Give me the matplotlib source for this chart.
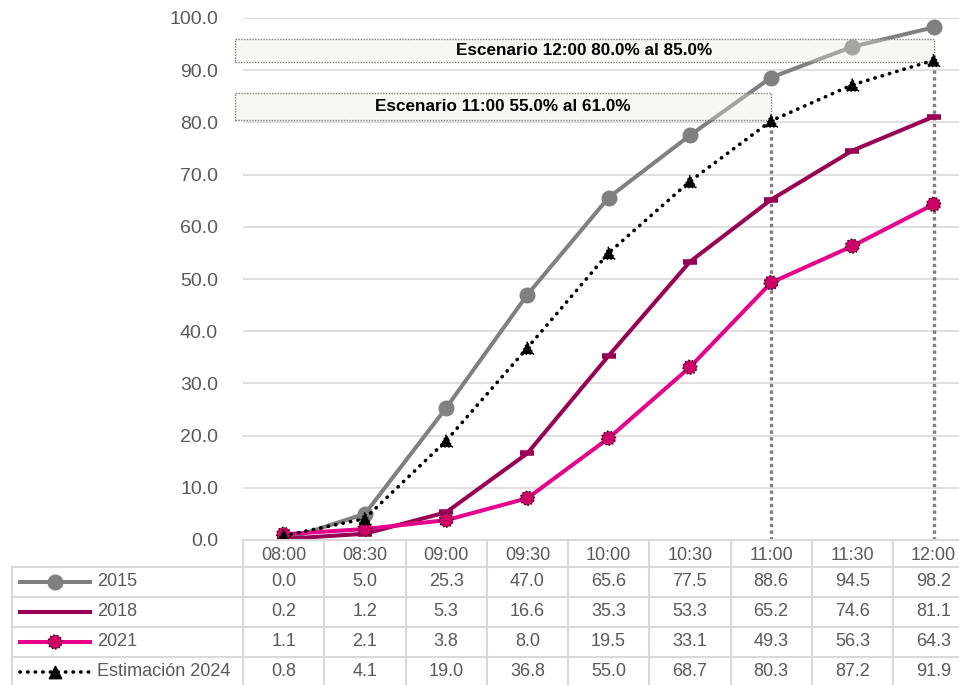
import matplotlib
matplotlib.use("Agg")
import matplotlib.pyplot as plt
from matplotlib.patches import Rectangle
from matplotlib.lines import Line2D
import numpy as np

plt.rcParams['font.family'] = ['Liberation Sans', 'DejaVu Sans']

# ---------------- datos ----------------
horas = ['08:00', '08:30', '09:00', '09:30', '10:00', '10:30', '11:00', '11:30', '12:00']
v2015 = [0.0, 5.0, 25.3, 47.0, 65.6, 77.5, 88.6, 94.5, 98.2]
v2018 = [0.2, 1.2, 5.3, 16.6, 35.3, 53.3, 65.2, 74.6, 81.1]
v2021 = [1.1, 2.1, 3.8, 8.0, 19.5, 33.1, 49.3, 56.3, 64.3]
v2024 = [0.8, 4.1, 19.0, 36.8, 55.0, 68.7, 80.3, 87.2, 91.9]
series_nombres = ['2015', '2018', '2021', 'Estimación 2024']

escenarios = [("Escenario 12:00 80.0% al 85.0%", '12:00', 91.5, 96.0),
              ("Escenario 11:00 55.0% al 61.0%", '11:00', 80.5, 85.6)]

# ---------------- estilos ----------------
C2015 = '#808080'
C2018 = '#990055'
C2021 = '#E6008C'
C2021_M = '#CC0066'
GRID = '#D9D9D9'
TXT = '#595959'
LW = 2.9
DOT = dict(color='black', lw=2.6, ls=(0, (0.1, 2.0)), dash_capstyle='round')

W, H, DPI = 959, 685, 100
COLW = 81.25          # ancho de columna en px
X0 = 243              # borde izquierdo del área de gráfico (px)
Y0 = 540              # línea del cero (px)
YTOP = 18             # 100 (px)
LEG_LEFT = 12         # borde izquierdo de la tabla (px)

fig = plt.figure(figsize=(W / DPI, H / DPI), dpi=DPI)
ax = fig.add_axes([X0 / W, (H - Y0) / H, 9 * COLW / W, (Y0 - YTOP) / H])

x = np.arange(len(horas))

ax.plot(x, v2015, color=C2015, lw=LW, marker='o', ms=10.5, zorder=2)
ax.plot(x, v2018, color=C2018, lw=LW, marker='_', ms=10, mew=4, zorder=4)
ax.plot(x, v2021, color=C2021, lw=LW, zorder=5)
ax.scatter(x, v2021, s=100, color=C2021_M, edgecolors='black', linewidths=1,
           linestyles=':', zorder=6)
ax.plot(x, v2024, zorder=7, **DOT)
ax.scatter(x, v2024, s=80, marker='^', color='black', edgecolors='black', linewidths=1,
           linestyles=':', zorder=8)

# líneas de caída y cuadros de escenario
for texto, hora, y_lo, y_hi in escenarios:
    i = horas.index(hora)
    ax.plot([i, i], [0, v2024[i] - 1.5], color=C2015, lw=2.4, ls=(0, (1, 1)), zorder=3)
    x_lo = -0.5 - (X0 - 235) / COLW
    ax.add_patch(Rectangle((x_lo, y_lo), i - x_lo, y_hi - y_lo, facecolor='#EBEBDB', alpha=0.35,
                           edgecolor='none', zorder=2.5, clip_on=False))
    ax.add_patch(Rectangle((x_lo, y_lo), i - x_lo, y_hi - y_lo, facecolor='none',
                           edgecolor='#7F7F7F', lw=1, ls=(0, (1, 1)), zorder=2.6, clip_on=False))
    ax.text((x_lo + i) / 2, (y_lo + y_hi) / 2, texto, ha='center', va='center',
            fontsize=12.3, fontweight='bold', color='black', zorder=9)

ax.set_xlim(-0.5, 8.5)
ax.set_ylim(0, 100)
ax.set_yticks(np.arange(0, 101, 10))
ax.set_yticklabels([f"{v:.1f}" for v in np.arange(0, 101, 10)], fontsize=14, color=TXT)
ax.tick_params(axis='y', length=0, pad=18)
ax.set_xticks([])
ax.yaxis.grid(True, color=GRID, lw=1.2, zorder=0)
ax.set_axisbelow(True)
for s in ax.spines.values():
    s.set_visible(False)

# ---------------- tabla de datos ----------------
HDR = 27 / 30
tab = fig.add_axes([X0 / W, 0, 9 * COLW / W, (H - Y0) / H])
tab.set_xlim(-0.5, 8.5)
tab.set_ylim((H - Y0) / 30, 0)
tab.set_axis_off()

x_left = -0.5 - (X0 - LEG_LEFT) / COLW
bottom = (H - Y0) / 30 + 1

tab.plot([-0.5, 8.5], [0, 0], color=GRID, lw=1.5, clip_on=False)
for k in range(len(series_nombres)):
    tab.plot([x_left, 8.5], [HDR + k, HDR + k], color=GRID, lw=1.5, clip_on=False)
for k in range(len(horas) + 1):
    tab.plot([k - 0.5, k - 0.5], [0, bottom], color=GRID, lw=1.5, clip_on=False)
tab.plot([x_left, x_left], [HDR, bottom], color=GRID, lw=1.5, clip_on=False)

for j, h in enumerate(horas):
    tab.text(j, HDR / 2 + 0.05, h, ha='center', va='center', fontsize=13, color=TXT, clip_on=False)

valores = [v2015, v2018, v2021, v2024]
for k, vals in enumerate(valores):
    yc = HDR + k + 0.5
    for j, v in enumerate(vals):
        tab.text(j, yc, f"{v:.1f}", ha='center', va='center', fontsize=13, color=TXT, clip_on=False)

# muestras de leyenda
lx0 = -0.5 - (X0 - 20) / COLW
lx1 = -0.5 - (X0 - 90) / COLW
lxm = (lx0 + lx1) / 2
ltx = -0.5 - (X0 - 97) / COLW
estilos = [
    dict(color=C2015, lw=LW),
    dict(color=C2018, lw=LW),
    dict(color=C2021, lw=LW),
    DOT,
]
for k, (nom, st) in enumerate(zip(series_nombres, estilos)):
    yc = HDR + k + 0.5
    tab.add_line(Line2D([lx0, lx1], [yc, yc], clip_on=False, **st))
    tab.text(ltx, yc, nom, ha='left', va='center', fontsize=13, color=TXT, clip_on=False)
tab.plot([lxm], [HDR + 0.5], marker='o', ms=10.5, color=C2015, clip_on=False)
tab.scatter([lxm], [HDR + 2.5], s=100, color=C2021_M, edgecolors='black', linewidths=1,
            linestyles=':', clip_on=False, zorder=5)
tab.scatter([lxm], [HDR + 3.5], s=80, marker='^', color='black', clip_on=False, zorder=5)

fig.savefig('out.png', dpi=DPI, facecolor='white')
